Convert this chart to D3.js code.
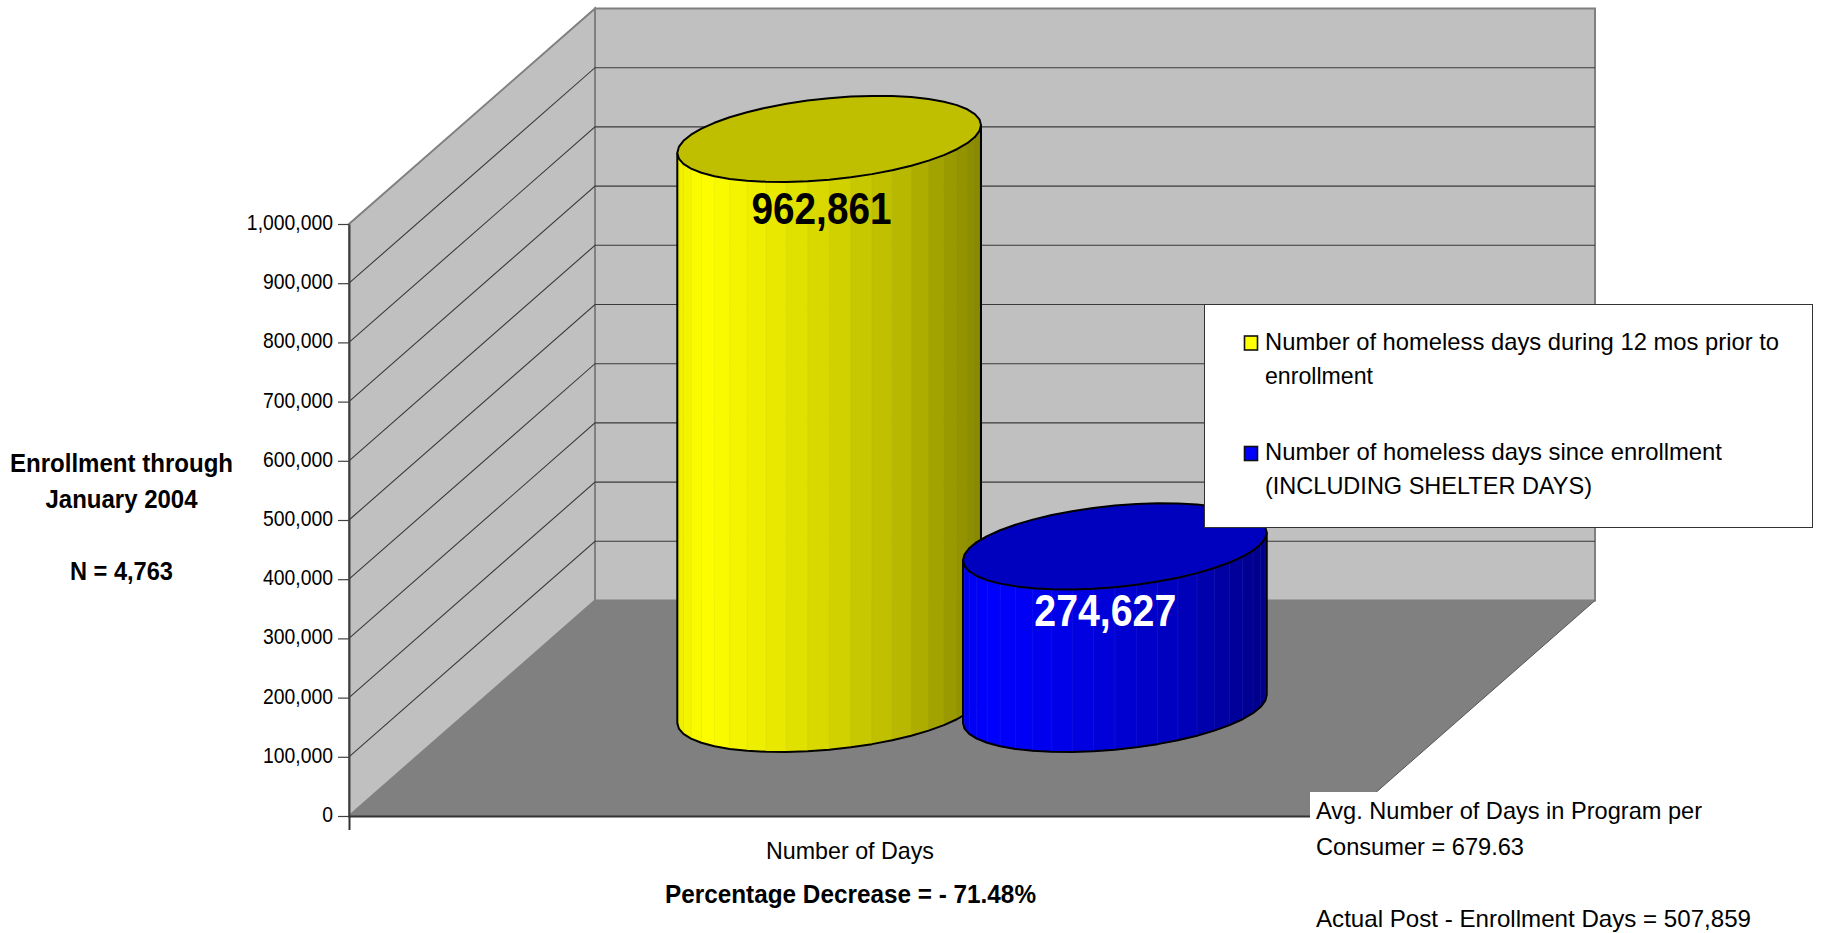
<!DOCTYPE html>
<html>
<head>
<meta charset="utf-8">
<script src="https://cdn.jsdelivr.net/npm/d3@7/dist/d3.min.js"></script>
<style>
html,body{margin:0;padding:0;background:#fff}
svg{display:block}
text{font-family:"Liberation Sans",Arial,sans-serif;fill:#000}
</style>
</head>
<body>
<svg id="chart" width="1821" height="933"></svg>
<script>
// ---- data ----
const categories = ["Number of Days"];
const seriesNames = [
  "Number of homeless days during 12 mos prior to enrollment",
  "Number of homeless days since enrollment (INCLUDING SHELTER DAYS)"
];
const seriesValues = [962861, 274627];
const seriesColors = ["#ffff00", "#0000ff"];
const labelColors = ["#000000", "#ffffff"];
const yTicks = [0,100000,200000,300000,400000,500000,600000,700000,800000,900000,1000000];

// ---- text notes ----
const sideNote = ["Enrollment through", "January 2004", "", "N = 4,763"];
const bottomNote = "Percentage Decrease = - 71.48%";
const cornerNote = ["Avg. Number of Days in Program per", "Consumer = 679.63", "", "Actual Post - Enrollment Days = 507,859"];
const legendLines = [
  ["Number of homeless days during 12 mos prior to", "enrollment"],
  ["Number of homeless days since enrollment", "(INCLUDING SHELTER DAYS)"]
];

// ---- layout ----
const svg = d3.select("#chart");
const X0 = 349, X1 = 1349, DX = 246, DY = 215.5;
const y = d3.scaleLinear().domain([0, 1000000]).range([816, 224]);
const xBand = d3.scaleBand().domain(categories).range([X0, X1]);
// two touching bars with a 150% gap, the same ratio along the floor depth
const barBand = d3.scaleBand().domain(d3.range(seriesValues.length)).range([0, X1 - X0]).paddingInner(0).paddingOuter(0.75);
const depthShare = 1 / 2.5;

function fit(sel, w) {
  sel.attr("textLength", w).attr("lengthAdjust", "spacingAndGlyphs");
  return sel;
}
const line = d3.line();

// ---- walls and floor ----
const yTop = y(1000000), yBot = y(0);
svg.append("path").attr("d", line([[X0,yTop],[X0+DX,yTop-DY],[X0+DX,yBot-DY],[X0,yBot]]) + "Z")
  .attr("fill", "#c0c0c0").attr("stroke", "#808080").attr("stroke-width", 2);
svg.append("path").attr("d", line([[X0+DX,yTop-DY],[X1+DX,yTop-DY],[X1+DX,yBot-DY],[X0+DX,yBot-DY]]) + "Z")
  .attr("fill", "#c0c0c0").attr("stroke", "#808080").attr("stroke-width", 2);

svg.append("g").selectAll("path").data(yTicks.filter(d => d > 0 && d < 1000000)).join("path")
  .attr("d", d => line([[X0,y(d)],[X0+DX,y(d)-DY],[X1+DX,y(d)-DY]]))
  .attr("fill", "none").attr("stroke", "#3a3a3a").attr("stroke-width", 1.1);

svg.append("path").attr("d", line([[X0,yBot],[X0+DX,yBot-DY],[X1+DX,yBot-DY],[X1,yBot]]) + "Z")
  .attr("fill", "#808080");
svg.append("path").attr("d", line([[X1,yBot],[X1+DX,yBot-DY]]))
  .attr("stroke", "#555").attr("stroke-width", 1).attr("fill", "none");

// ---- cylinders ----
const N = 44;
const shade = d3.scaleLinear().domain([0, 0.085, 0.416, 0.745, 1]).range([0.93, 1, 0.875, 0.72, 0.53]).clamp(true);
seriesValues.forEach((v, i) => {
  const g = svg.append("g");
  const a = barBand.bandwidth() / 2 + 0.8;
  const rx = DX / 2 * depthShare, ry = DY / 2 * depthShare;
  const cx = X0 + barBand(i) + barBand.bandwidth() / 2 + DX / 2;
  const base = y(0) - DY / 2 + 0.7, top = y(v) - DY / 2 + 0.7;
  const pt = (t, yc) => [cx + a * Math.cos(t) + rx * Math.sin(t), yc - ry * Math.sin(t)];
  const t0 = Math.atan2(rx, a);
  const halfW = Math.hypot(a, rx);
  const ts = d3.range(N).map(k => t0 - k * 2 * Math.PI / N);
  const vis = d3.range(N / 2 + 1).map(k => t0 - k * 2 * Math.PI / N);
  const col = d3.rgb(seriesColors[i]);
  const tone = s => d3.rgb(col.r * s, col.g * s, col.b * s).formatHex();
  const facetShade = ([p, q]) => shade(((pt(p, base)[0] + pt(q, base)[0]) / 2 - (cx - halfW)) / (2 * halfW));
  // facets, drawn from right silhouette round the front to the left one
  g.selectAll("path.facet").data(d3.pairs(vis)).join("path").attr("class", "facet")
    .attr("d", ([p, q]) => line([pt(p, base), pt(q, base), pt(q, top), pt(p, top)]) + "Z")
    .attr("fill", d => tone(facetShade(d)))
    .attr("stroke", d => i === 0 ? tone(facetShade(d) * 0.96) : d3.interpolateRgb(tone(facetShade(d)), "#8080ff")(0.1))
    .attr("stroke-width", 0.7);
  // outline of the side
  const outline = [pt(vis[0], top)].concat(vis.map(t => pt(t, base)), [pt(vis[vis.length - 1], top)]);
  g.append("path").attr("d", line(outline)).attr("fill", "none")
    .attr("stroke", "#000").attr("stroke-width", 2).attr("stroke-linejoin", "round");
  // lid
  g.append("path").attr("d", line(ts.map(t => pt(t, top))) + "Z")
    .attr("fill", tone(0.75)).attr("stroke", "#000").attr("stroke-width", 2).attr("stroke-linejoin", "round");
});

// ---- value labels ----
const labelPos = [{x: 821.5, w: 140, dy: 86}, {x: 1105.3, w: 142, dy: 80}];
svg.append("g").selectAll("text").data(seriesValues).join("text")
  .attr("x", (d, i) => labelPos[i].x)
  .attr("y", (d, i) => y(d) - DY / 2 + labelPos[i].dy)
  .attr("text-anchor", "middle").attr("font-size", 45).attr("font-weight", "bold")
  .style("fill", (d, i) => labelColors[i])
  .text(d3.format(","))
  .each(function(d, i) { fit(d3.select(this), labelPos[i].w); });

// ---- corner note backdrop (hides the end of the floor) ----
svg.append("rect").attr("x", 1310).attr("y", 792).attr("width", 511).attr("height", 141).attr("fill", "#fff");

// ---- axes ----
const yAxis = svg.append("g").attr("transform", `translate(${X0},0)`)
  .call(d3.axisLeft(y).tickValues(yTicks).tickFormat(d3.format(",")).tickSize(11).tickPadding(5).tickSizeOuter(0));
yAxis.selectAll("path.domain").attr("stroke", "#404040").attr("stroke-width", 2);
yAxis.selectAll(".tick line").attr("stroke", "#404040").attr("stroke-width", 1.2);
yAxis.selectAll("text").attr("font-size", 22).attr("font-family", null).attr("dy", "0.25em").each(function() {
  const s = d3.select(this); fit(s, this.getComputedTextLength() * 0.88);
});

const xAxis = svg.append("g").attr("transform", `translate(0,${yBot})`)
  .call(d3.axisBottom(xBand).tickSize(0).tickSizeOuter(14).tickPadding(26));
xAxis.selectAll("path.domain").attr("stroke", "#333").attr("stroke-width", 2);
xAxis.selectAll("text").attr("font-size", 24).attr("font-family", null).attr("x", 1).each(function() {
  fit(d3.select(this), 168);
});
xAxis.selectAll("text").attr("dy", null).attr("y", 43);

// cover the bit of the x axis that runs behind the corner note
svg.append("rect").attr("x", 1310).attr("y", 810).attr("width", 60).attr("height", 30).attr("fill", "#fff");

// ---- side note ----
const sideW = [223, 152, 0, 103], sideY = [472, 508, 0, 580];
svg.append("g").selectAll("text").data(sideNote).join("text")
  .attr("x", 121.5).attr("y", (d, i) => sideY[i]).attr("text-anchor", "middle")
  .attr("font-size", 25).attr("font-weight", "bold").text(d => d)
  .each(function(d, i) { if (d) fit(d3.select(this), sideW[i]); });

// ---- bottom note ----
fit(svg.append("text").attr("x", 850.5).attr("y", 902.5).attr("text-anchor", "middle")
  .attr("font-size", 25).attr("font-weight", "bold").text(bottomNote), 371);

// ---- corner note ----
const cornerW = [386, 208, 0, 435], cornerY = [818.5, 855, 0, 926.5];
svg.append("g").selectAll("text").data(cornerNote).join("text")
  .attr("x", 1316).attr("y", (d, i) => cornerY[i]).attr("font-size", 24).text(d => d)
  .each(function(d, i) { if (d) fit(d3.select(this), cornerW[i]); });

// ---- legend ----
svg.append("rect").attr("x", 1204.5).attr("y", 304.5).attr("width", 608).attr("height", 223)
  .attr("fill", "#fff").attr("stroke", "#333").attr("stroke-width", 1);
const swatchY = [336, 446.5];
const legendW = [[514, 108], [457, 327]];
const legendY = [[349.5, 384], [460, 494]];
seriesNames.forEach((name, i) => {
  svg.append("rect").attr("x", 1244.5).attr("y", swatchY[i]).attr("width", 13).attr("height", 14)
    .attr("fill", seriesColors[i]).attr("stroke", "#111").attr("stroke-width", 1.6);
  legendLines[i].forEach((t, j) => {
    fit(svg.append("text").attr("x", 1265).attr("y", legendY[i][j]).attr("font-size", 24).text(t), legendW[i][j]);
  });
});
</script>
</body>
</html>
